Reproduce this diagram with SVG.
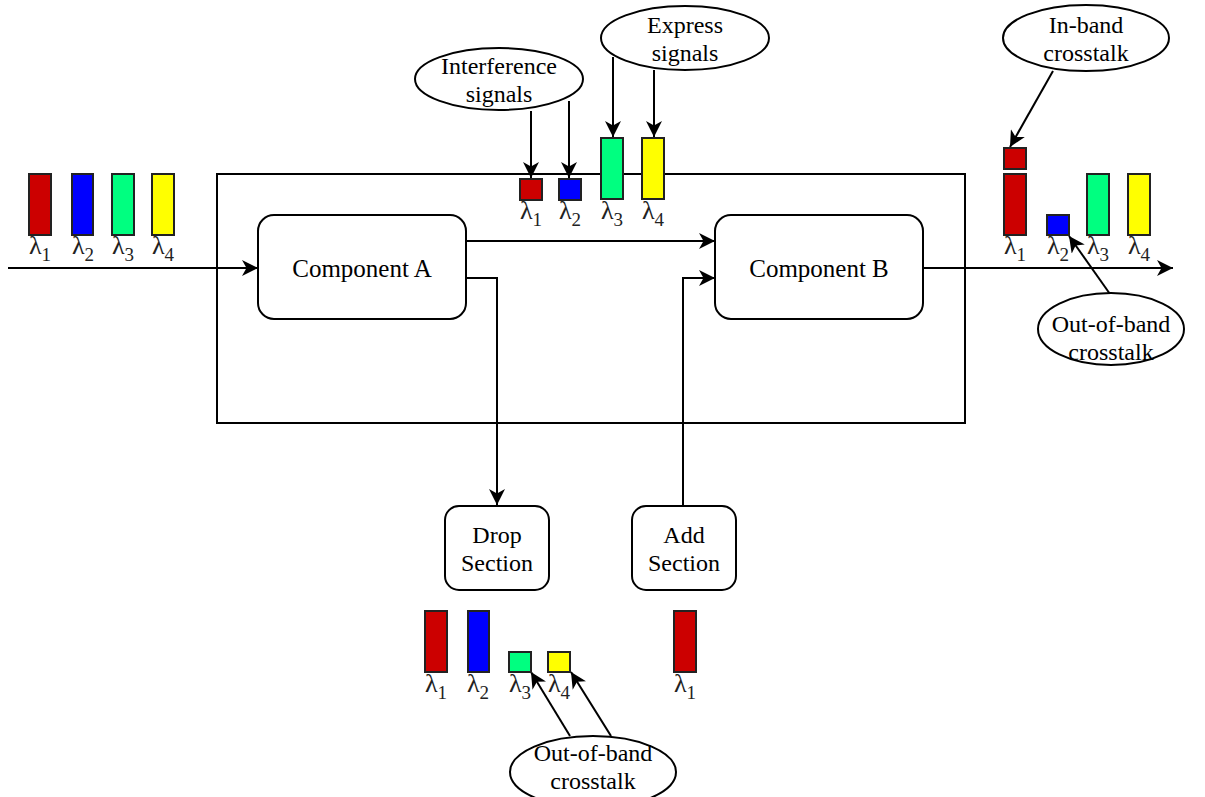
<svg xmlns="http://www.w3.org/2000/svg" width="1205" height="797" viewBox="0 0 1205 797">
  <style>
    .box { fill: #ffffff; stroke: #000000; stroke-width: 2; }
    .oval { fill: #ffffff; stroke: #000000; stroke-width: 2; }
    .lbl { font-family: "Liberation Serif", "Times New Roman", serif; font-size: 24px; fill: #000000; text-anchor: middle; }
    .big { font-size: 25px; }
    .lam { font-family: "Liberation Serif", "Times New Roman", serif; font-size: 26px; fill: #222222; text-anchor: middle; }
    .sub { font-size: 19px; }
    .arw { fill: none; stroke: #000000; stroke-width: 2; marker-end: url(#head); }
    .bar { stroke: #222222; stroke-width: 2; }
    .r { fill: #cc0000; }
    .b { fill: #0000ff; }
    .g { fill: #00ff80; }
    .y { fill: #ffff00; }
  </style>
  <defs>
    <marker id="head" markerUnits="userSpaceOnUse" markerWidth="17" markerHeight="16" refX="16" refY="8" orient="auto">
      <path d="M0,0 L16,8 L0,16 L4.5,8 Z" fill="#000000"/>
    </marker>
  </defs>

  <rect width="1205" height="797" fill="#ffffff"/>

  <!-- enclosing node box -->
  <g id="node-frame">
    <rect x="217" y="174" width="748" height="249" fill="none" stroke="#000000" stroke-width="2"/>
  </g>

  <!-- connectors -->
  <g id="connectors">
    <line class="arw" x1="8" y1="268" x2="258" y2="268"/>
    <line class="arw" x1="466" y1="241" x2="715" y2="241"/>
    <polyline class="arw" points="466,278 497,278 497,505"/>
    <polyline class="arw" points="683,506 683,278 715,278"/>
    <line class="arw" x1="923" y1="268" x2="1173" y2="268"/>
    <line class="arw" x1="531" y1="111" x2="531" y2="178"/>
    <line class="arw" x1="569" y1="101" x2="569" y2="178"/>
    <line class="arw" x1="613" y1="57" x2="613" y2="137"/>
    <line class="arw" x1="654" y1="70" x2="654" y2="137"/>
    <line class="arw" x1="1053" y1="71" x2="1010" y2="147"/>
    <line class="arw" x1="1110" y1="294" x2="1069" y2="236"/>
    <line class="arw" x1="570" y1="736" x2="531" y2="672"/>
    <line class="arw" x1="611" y1="736" x2="571" y2="672"/>
  </g>

  <!-- components -->
  <g id="component-a">
    <rect class="box" x="258" y="215" width="208" height="104" rx="16"/>
    <text class="lbl big" x="362" y="277">Component A</text>
  </g>
  <g id="component-b">
    <rect class="box" x="715" y="215" width="208" height="104" rx="16"/>
    <text class="lbl big" x="819" y="277">Component B</text>
  </g>
  <g id="drop-section">
    <rect class="box" x="445" y="506" width="104" height="84" rx="14"/>
    <text class="lbl" x="497" y="543">Drop</text>
    <text class="lbl" x="497" y="571">Section</text>
  </g>
  <g id="add-section">
    <rect class="box" x="632" y="506" width="104" height="84" rx="14"/>
    <text class="lbl" x="684" y="543">Add</text>
    <text class="lbl" x="684" y="571">Section</text>
  </g>

  <!-- callouts -->
  <g id="note-interference">
    <ellipse class="oval" cx="499" cy="79" rx="84" ry="31"/>
    <text class="lbl" x="499" y="74">Interference</text>
    <text class="lbl" x="499" y="102">signals</text>
  </g>
  <g id="note-express">
    <ellipse class="oval" cx="685" cy="38" rx="84" ry="32"/>
    <text class="lbl" x="685" y="33">Express</text>
    <text class="lbl" x="685" y="61">signals</text>
  </g>
  <g id="note-inband">
    <ellipse class="oval" cx="1086" cy="38" rx="83" ry="33"/>
    <text class="lbl" x="1086" y="33">In-band</text>
    <text class="lbl" x="1086" y="61">crosstalk</text>
  </g>
  <g id="note-outband-right">
    <ellipse class="oval" cx="1111" cy="329" rx="73" ry="36"/>
    <text class="lbl" x="1111" y="332">Out-of-band</text>
    <text class="lbl" x="1111" y="360">crosstalk</text>
  </g>
  <g id="note-outband-bottom">
    <ellipse class="oval" cx="593" cy="772" rx="83" ry="36"/>
    <text class="lbl" x="593" y="761">Out-of-band</text>
    <text class="lbl" x="593" y="789">crosstalk</text>
  </g>

  <!-- input spectrum -->
  <g id="spectrum-in">
    <rect class="bar r" x="29" y="174" width="22" height="61"/>
    <rect class="bar b" x="72" y="174" width="21" height="61"/>
    <rect class="bar g" x="112" y="174" width="22" height="61"/>
    <rect class="bar y" x="152" y="174" width="22" height="61"/>
    <text class="lam" x="40" y="254">λ<tspan class="sub" dy="7">1</tspan></text>
    <text class="lam" x="83" y="254">λ<tspan class="sub" dy="7">2</tspan></text>
    <text class="lam" x="123" y="254">λ<tspan class="sub" dy="7">3</tspan></text>
    <text class="lam" x="163" y="254">λ<tspan class="sub" dy="7">4</tspan></text>
  </g>

  <!-- signals entering the node -->
  <g id="spectrum-node">
    <rect class="bar r" x="520" y="179" width="22" height="21"/>
    <rect class="bar b" x="559" y="179" width="22" height="21"/>
    <rect class="bar g" x="601" y="138" width="22" height="61"/>
    <rect class="bar y" x="642" y="138" width="22" height="61"/>
    <text class="lam" x="531" y="219">λ<tspan class="sub" dy="7">1</tspan></text>
    <text class="lam" x="570" y="219">λ<tspan class="sub" dy="7">2</tspan></text>
    <text class="lam" x="612" y="219">λ<tspan class="sub" dy="7">3</tspan></text>
    <text class="lam" x="653" y="219">λ<tspan class="sub" dy="7">4</tspan></text>
  </g>

  <!-- output spectrum -->
  <g id="spectrum-out">
    <rect class="bar r" x="1004" y="148" width="22" height="21"/>
    <rect class="bar r" x="1004" y="174" width="22" height="61"/>
    <rect class="bar b" x="1047" y="215" width="22" height="20"/>
    <rect class="bar g" x="1087" y="174" width="22" height="61"/>
    <rect class="bar y" x="1128" y="174" width="22" height="61"/>
    <text class="lam" x="1015" y="254">λ<tspan class="sub" dy="7">1</tspan></text>
    <text class="lam" x="1058" y="254">λ<tspan class="sub" dy="7">2</tspan></text>
    <text class="lam" x="1098" y="254">λ<tspan class="sub" dy="7">3</tspan></text>
    <text class="lam" x="1139" y="254">λ<tspan class="sub" dy="7">4</tspan></text>
  </g>

  <!-- dropped spectrum -->
  <g id="spectrum-drop">
    <rect class="bar r" x="425" y="611" width="22" height="61"/>
    <rect class="bar b" x="468" y="611" width="21" height="61"/>
    <rect class="bar g" x="509" y="652" width="22" height="20"/>
    <rect class="bar y" x="548" y="652" width="22" height="20"/>
    <text class="lam" x="436" y="692">λ<tspan class="sub" dy="7">1</tspan></text>
    <text class="lam" x="478" y="692">λ<tspan class="sub" dy="7">2</tspan></text>
    <text class="lam" x="520" y="692">λ<tspan class="sub" dy="7">3</tspan></text>
    <text class="lam" x="559" y="692">λ<tspan class="sub" dy="7">4</tspan></text>
  </g>

  <!-- added spectrum -->
  <g id="spectrum-add">
    <rect class="bar r" x="674" y="611" width="22" height="61"/>
    <text class="lam" x="685" y="692">λ<tspan class="sub" dy="7">1</tspan></text>
  </g>
</svg>
